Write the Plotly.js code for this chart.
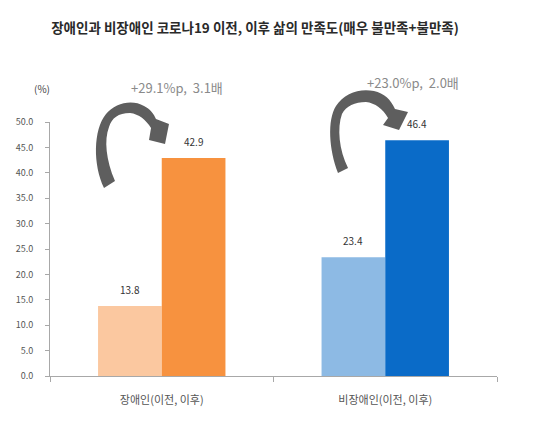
<!DOCTYPE html>
<html><head><meta charset="utf-8">
<script src="https://cdn.plot.ly/plotly-3.0.1.min.js"></script>
<style>
html,body{margin:0;padding:0;background:#fff;}
#chart{width:550px;height:422px;outline:2px solid #cfcfcf;outline-offset:-2px;}
</style></head>
<body><div id="chart"></div>
<script>
var categories = ['장애인(이전, 이후)', '비장애인(이전, 이후)'];
var before = [13.8, 23.4];
var after = [42.9, 46.4];
var beforeColors = ['#FBC8A0', '#8DBAE4'];
var afterColors = ['#F7923F', '#0A6BC8'];
var changeLabels = ['+29.1%p,  3.1배', '+23.0%p,  2.0배'];
var yTicks = [0, 5, 10, 15, 20, 25, 30, 35, 40, 45, 50];

var L = 50, R = 53, T = 122, B = 46, W = 550, H = 422;
var pw = W - L - R, ph = H - T - B;
function toPaper(path) {
  var toks = path.trim().split(/\s+/);
  var out = [], nums = [];
  toks.forEach(function (t) {
    if (/^[A-Za-z]$/.test(t)) { out.push(t); }
    else { nums.push(parseFloat(t)); if (nums.length === 2) {
      out.push(((nums[0] - L) / pw).toFixed(4) + ',' + ((H - B - nums[1]) / ph).toFixed(4)); nums = []; } }
  });
  return out.join(' ');
}
function px2x(x) { return (x - L) / pw; }
function px2y(y) { return (H - B - y) / ph; }

var arrowL = 'M 104 188 C 93 165 93 130 106 114 C 115 103 132 99 144 106 C 150 109 154 114 156 119 L 169 124 L 165 144 L 149 140 L 151 128 C 146 120 139 114 130 113 C 118 113 112 118 109 127 C 104 140 106 160 115 181 Z';
var arrowR = 'M 338 173 C 329 150 327 120 336 106 C 344 93 360 88 374 91 C 384 93 391 100 395 109 L 408 112 L 399 130 L 383 125 L 388 118 C 383 109 375 103 366 102 C 355 102 346 106 342 114 C 337 128 339 150 348 168 Z';

var traces = [
  {type: 'bar', x: categories, y: before, marker: {color: beforeColors}, name: '이전', hoverinfo: 'y'},
  {type: 'bar', x: categories, y: after, marker: {color: afterColors}, name: '이후', hoverinfo: 'y'}
];

var annotations = [];
categories.forEach(function (c, i) {
  annotations.push({x: c, y: before[i], xref: 'x', yref: 'y', xshift: -32, yshift: 7, yanchor: 'bottom', xanchor: 'center',
    text: before[i].toFixed(1), showarrow: false, font: {size: 10, color: '#333'}});
  annotations.push({x: c, y: after[i], xref: 'x', yref: 'y', xshift: 32, yshift: 7, yanchor: 'bottom', xanchor: 'center',
    text: after[i].toFixed(1), showarrow: false, font: {size: 10, color: '#333'}});
});
annotations.push({xref: 'paper', yref: 'paper', x: px2x(177), y: px2y(87), xanchor: 'center', yanchor: 'middle',
  text: changeLabels[0], showarrow: false, font: {size: 13, color: '#8a8a8a'}});
annotations.push({xref: 'paper', yref: 'paper', x: px2x(413), y: px2y(82), xanchor: 'center', yanchor: 'middle',
  text: changeLabels[1], showarrow: false, font: {size: 13, color: '#8a8a8a'}});
annotations.push({xref: 'paper', yref: 'paper', x: px2x(42), y: px2y(88), xanchor: 'center', yanchor: 'middle',
  text: '(%)', showarrow: false, font: {size: 10, color: '#444'}});

var layout = {
  width: W, height: H,
  margin: {l: L, r: R, t: T, b: B},
  paper_bgcolor: '#fff', plot_bgcolor: '#fff',
  font: {family: '"Noto Sans CJK KR", "Noto Sans", sans-serif', color: '#444'},
  title: {text: '<b>장애인과 비장애인 코로나19 이전, 이후 삶의 만족도(매우 불만족+불만족)</b>',
    x: 255 / W, xref: 'container', y: 1 - 28 / H, yref: 'container', yanchor: 'middle', xanchor: 'center',
    font: {size: 13.5, color: '#2a2a2a'}},
  showlegend: false,
  barmode: 'group', bargap: 0.43, bargroupgap: 0,
  xaxis: {type: 'category', showline: true, linecolor: '#a8a8a8', linewidth: 1,
    ticks: 'outside', tickson: 'boundaries', ticklen: 5, tickcolor: '#a8a8a8',
    ticklabelstandoff: 14, tickfont: {size: 11, color: '#555'}, showgrid: false, zeroline: false, fixedrange: true},
  yaxis: {range: [0, 50], tickvals: yTicks, ticktext: yTicks.map(function (v) { return v.toFixed(1); }),
    showline: true, linecolor: '#a8a8a8', linewidth: 1, ticks: 'outside', ticklen: 4, tickcolor: '#a8a8a8',
    ticklabelstandoff: 10, tickfont: {size: 9, color: '#555'}, showgrid: false, zeroline: false, fixedrange: true},
  shapes: [
    {type: 'path', xref: 'paper', yref: 'paper', path: toPaper(arrowL), fillcolor: '#5e5e5e', line: {width: 0}},
    {type: 'path', xref: 'paper', yref: 'paper', path: toPaper(arrowR), fillcolor: '#5e5e5e', line: {width: 0}}
  ],
  annotations: annotations
};
Plotly.newPlot('chart', traces, layout, {displayModeBar: false, staticPlot: true});
</script></body></html>
